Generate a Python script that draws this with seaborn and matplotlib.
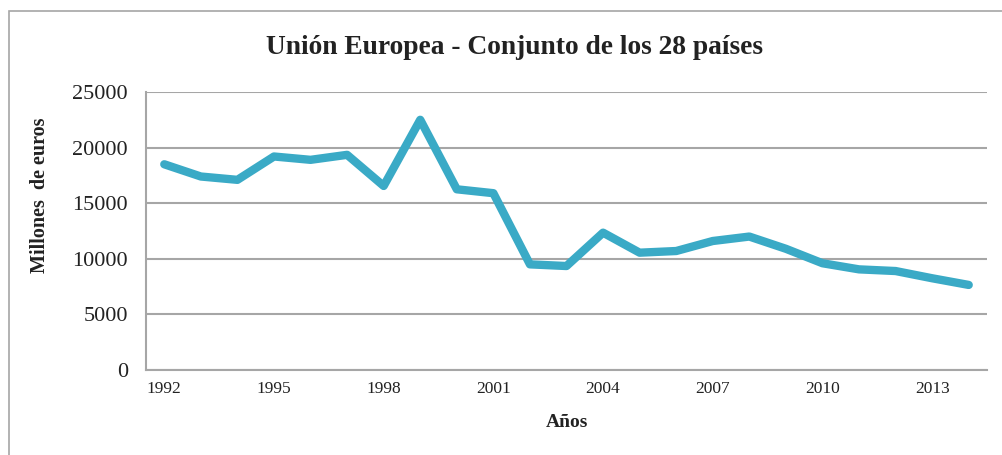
import numpy as np
import pandas as pd
import matplotlib
matplotlib.use("Agg")
import matplotlib.pyplot as plt
import seaborn as sns
from matplotlib.patches import Rectangle

sns.set_theme(style="white")
plt.rcParams['font.family'] = ['Liberation Serif', 'DejaVu Serif']

# data
years = list(range(1992, 2015))
values = [18500, 17400, 17100, 19200, 18900, 19350, 16550, 22500, 16250, 15900,
          9500, 9350, 12350, 10550, 10700, 11600, 12000, 10900, 9600, 9050,
          8900, 8250, 7650]
tick_years = [1992, 1995, 1998, 2001, 2004, 2007, 2010, 2013]

df = pd.DataFrame({"pos": np.arange(len(years)), "valor": values})

fig = plt.figure(figsize=(10.02, 4.55), dpi=100)
ax = fig.add_axes([146 / 1002, 1 - 370 / 455, 841 / 1002, 278 / 455])

# outer chart frame
fig.patches.append(Rectangle((9 / 1002, -0.1), 1.2, (455 - 11) / 455 + 0.1,
                             transform=fig.transFigure, fill=False,
                             edgecolor="#a6a6a6", linewidth=1.2))

sns.lineplot(data=df, x="pos", y="valor", ax=ax, color="#3aaac6",
             linewidth=6, solid_joinstyle="round", solid_capstyle="round")

grid_c = "#a6a6a6"
ax.set_ylim(0, 25000)
ax.set_yticks(range(0, 25001, 5000))
ax.yaxis.grid(True, color=grid_c, linewidth=1.5)
ax.set_xlim(-0.5, len(years) - 0.5)

# labels centered on categories, tick marks between them
centers = [years.index(y) for y in tick_years]
ax.set_xticks(centers)
ax.set_xticklabels([str(y) for y in tick_years], fontsize=12.5)
ax.set_xticks([c - 0.5 for c in centers], minor=True)
ax.tick_params(axis="x", which="major", length=0, pad=8, colors="#222222")
ax.tick_params(axis="x", which="minor", length=5, width=1.2, color=grid_c, direction="out")
ax.tick_params(axis="y", length=7, width=1.2, color=grid_c, direction="out",
               labelsize=16, pad=6, labelcolor="#222222")

for s in ["top", "right"]:
    ax.spines[s].set_visible(False)
for s in ["left", "bottom"]:
    ax.spines[s].set_color(grid_c)
    ax.spines[s].set_linewidth(1.5)

ax.set_xlabel("Años", fontsize=14, fontweight="bold", labelpad=12, color="#222222")
ax.set_ylabel("Millones  de euros", fontsize=14.5, fontweight="bold", color="#222222")
ax.yaxis.set_label_coords(-0.114, 0.63)

fig.text(515 / 1002, 1 - 48 / 455, "Unión Europea - Conjunto de los 28 países",
         ha="center", va="center", fontsize=19.8, fontweight="bold", color="#222222")

fig.savefig("out.png", dpi=100)
